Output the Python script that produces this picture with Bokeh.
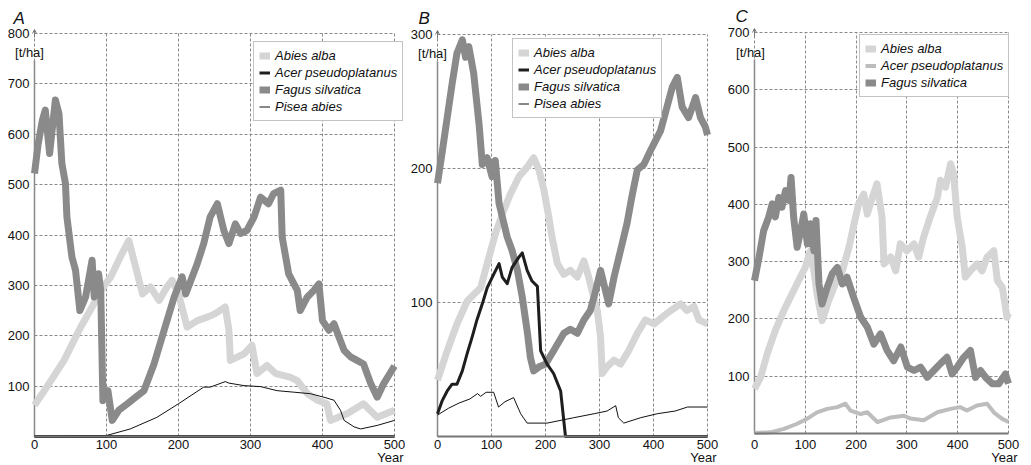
from bokeh.plotting import figure
from bokeh.layouts import row
from bokeh.models import Legend, LegendItem, Label, Grid, Arrow, OpenHead
from bokeh.embed import file_html
from bokeh.resources import INLINE

FONT = "Liberation Sans"

# ---------------- data ----------------
x_ticks = [0, 100, 200, 300, 400, 500]

# Panel A
A_y_ticks = [100, 200, 300, 400, 500, 600, 700, 800]
A_abies_year = [0, 17, 41, 64, 80, 92, 106, 119, 131, 138, 150, 161, 173, 184, 191, 200, 212, 226, 240, 251, 265, 270, 272, 291, 302, 309, 323, 335, 355, 365, 379, 393, 406, 411, 434, 457, 476, 500]
A_abies_val = [62, 98, 151, 217, 257, 290, 317, 356, 389, 350, 283, 297, 270, 297, 310, 283, 217, 230, 237, 244, 257, 211, 151, 164, 181, 125, 141, 125, 118, 111, 85, 72, 65, 32, 45, 65, 38, 52]
A_acer_year = [0, 500]
A_acer_val = [0, 0]
A_fagus_year = [0, 5, 11, 15, 21, 29, 34, 38, 43, 45, 52, 57, 63, 71, 80, 83, 89, 92, 95, 102, 108, 117, 129, 143, 152, 166, 180, 194, 205, 210, 226, 235, 244, 254, 263, 270, 279, 286, 295, 305, 314, 325, 332, 342, 344, 353, 365, 369, 379, 388, 395, 400, 409, 416, 423, 430, 439, 448, 457, 467, 476, 485, 500]
A_fagus_val = [522, 580, 628, 648, 562, 668, 641, 542, 502, 436, 356, 330, 250, 277, 350, 277, 323, 290, 71, 91, 32, 52, 65, 81, 91, 144, 211, 277, 317, 283, 343, 383, 436, 462, 409, 383, 422, 403, 409, 436, 475, 462, 482, 489, 396, 323, 290, 250, 277, 290, 303, 230, 211, 224, 197, 171, 158, 151, 144, 105, 78, 105, 140]
A_pisea_year = [0, 100, 133, 170, 200, 235, 244, 265, 270, 291, 314, 337, 360, 383, 402, 416, 425, 430, 444, 453, 476, 500]
A_pisea_val = [0, 2, 15, 38, 65, 98, 98, 109, 106, 101, 99, 91, 88, 85, 78, 72, 52, 32, 19, 15, 22, 32]

# Panel B
B_y_ticks = [100, 200, 300]
B_abies_year = [0, 18, 36, 55, 67, 80, 92, 107, 120, 135, 151, 166, 178, 188, 197, 206, 212, 222, 234, 246, 259, 271, 280, 286, 296, 302, 305, 314, 327, 339, 354, 370, 385, 401, 416, 432, 450, 462, 475, 484, 500]
B_abies_val = [42, 64, 84, 101, 106, 111, 129, 151, 166, 181, 194, 201, 208, 199, 184, 164, 149, 129, 121, 124, 119, 131, 119, 109, 94, 74, 47, 52, 57, 54, 64, 77, 87, 84, 89, 94, 99, 94, 97, 87, 84]
B_acer_year = [0, 9, 18, 27, 36, 46, 55, 64, 73, 83, 92, 104, 114, 120, 129, 138, 151, 157, 166, 175, 185, 191, 203, 215, 228, 237, 500]
B_acer_val = [17, 27, 34, 39, 39, 49, 62, 74, 87, 99, 111, 121, 129, 119, 114, 126, 134, 137, 124, 116, 112, 64, 54, 47, 34, 0, 0]
B_fagus_year = [0, 9, 18, 27, 36, 46, 52, 58, 67, 77, 83, 92, 101, 107, 114, 120, 129, 138, 148, 157, 166, 172, 178, 188, 200, 215, 234, 246, 259, 271, 283, 293, 302, 308, 317, 327, 339, 351, 360, 370, 382, 394, 404, 413, 425, 435, 444, 453, 465, 478, 487, 496, 500]
B_fagus_val = [189, 213, 238, 263, 286, 296, 283, 291, 271, 233, 203, 208, 194, 206, 174, 164, 149, 139, 124, 104, 79, 59, 49, 52, 54, 64, 77, 80, 77, 87, 94, 109, 124, 114, 99, 119, 139, 159, 179, 199, 203, 213, 221, 228, 246, 261, 268, 246, 238, 253, 238, 231, 225]
B_pisea_year = [0, 20, 40, 60, 74, 80, 90, 104, 113, 125, 141, 154, 166, 203, 252, 290, 314, 330, 335, 345, 376, 407, 440, 463, 500]
B_pisea_val = [16, 21, 25, 28, 32, 30, 33, 33, 22, 26, 29, 17, 10, 10, 14, 17, 19, 23, 14, 10, 14, 17, 19, 22, 22]

# Panel C
C_y_ticks = [100, 200, 300, 400, 500, 600, 700]
C_abies_year = [0, 12, 25, 41, 58, 74, 87, 100, 110, 117, 123, 133, 146, 159, 173, 186, 196, 205, 215, 222, 232, 241, 251, 255, 268, 278, 287, 300, 314, 323, 333, 346, 360, 366, 376, 386, 392, 399, 409, 415, 425, 438, 448, 458, 471, 478, 488, 497, 500]
C_abies_val = [78, 98, 139, 180, 215, 244, 267, 290, 319, 284, 244, 197, 232, 261, 284, 325, 366, 401, 418, 383, 412, 436, 378, 296, 308, 284, 331, 319, 331, 308, 343, 378, 412, 442, 430, 471, 453, 378, 325, 273, 284, 296, 284, 308, 319, 267, 255, 203, 210]
C_acer_year = [0, 31, 58, 84, 104, 123, 143, 163, 179, 189, 209, 222, 242, 268, 294, 307, 333, 360, 386, 405, 418, 438, 458, 471, 487, 500]
C_acer_val = [1, 2, 8, 17, 26, 37, 43, 46, 52, 40, 34, 37, 20, 28, 31, 26, 23, 37, 43, 46, 40, 49, 52, 37, 26, 20]
C_fagus_year = [0, 9, 18, 28, 35, 41, 48, 54, 61, 68, 72, 77, 84, 91, 97, 104, 110, 117, 121, 127, 133, 143, 153, 163, 173, 182, 195, 209, 222, 235, 248, 261, 274, 288, 301, 314, 327, 340, 353, 366, 379, 389, 399, 412, 425, 435, 445, 455, 468, 481, 494, 500]
C_fagus_val = [267, 308, 354, 378, 401, 378, 412, 395, 424, 407, 447, 378, 325, 354, 383, 331, 366, 319, 372, 261, 226, 255, 279, 290, 261, 273, 238, 203, 186, 156, 174, 145, 127, 151, 116, 110, 116, 98, 110, 122, 133, 104, 116, 133, 145, 98, 110, 98, 87, 87, 104, 87]

# ---------------- styles ----------------
ABIES = dict(line_color="#d5d5d5", line_width=7)
ACER_DARK = dict(line_color="#1e1e1e", line_width=3)
ACER_LIGHT = dict(line_color="#bdbdbd", line_width=4)
FAGUS = dict(line_color="#8a8a8a", line_width=7)
PISEA = dict(line_color="#111111", line_width=1)

FIG_H = 465
HAS_CROSS = "cross_bounds" in Grid.properties()


def make_panel(letter, ymax, yticks, series, legend_order, legend_xy,
               fig_w, px0, px500, py0, pytop, letter_dx, letter_dy, ha_dx, ha_dy,
               x_standoff, year_dy):
    # px*/py* are pixel positions inside this figure (top-left origin)
    sx = (px500 - px0) / 500.0
    sy = (py0 - pytop) / float(ymax)
    x_rng = (-px0 / sx, 500 + (fig_w - px500) / sx)
    y_rng = (-(FIG_H - py0) / sy, ymax + pytop / sy)
    p = figure(width=fig_w, height=FIG_H, x_range=x_rng, y_range=y_rng,
               output_backend="svg", toolbar_location=None, min_border=0)
    p.outline_line_color = None
    p.background_fill_color = "white"
    p.border_fill_color = "white"
    p.xaxis.ticker = x_ticks
    p.yaxis.ticker = yticks
    p.xaxis.fixed_location = 0
    p.yaxis.fixed_location = 0
    p.xaxis.bounds = (0, 500)
    p.yaxis.bounds = (0, ymax)
    for ax in (p.xaxis[0], p.yaxis[0]):
        ax.major_tick_line_color = None
        ax.minor_tick_line_color = None
        ax.major_tick_out = 0
        ax.major_tick_in = 0
        ax.major_label_text_font = FONT
        ax.major_label_text_font_size = "13px"
        ax.major_label_text_color = "#111111"
    p.xaxis.major_label_standoff = x_standoff
    p.yaxis.major_label_standoff = 5
    p.xaxis.axis_line_color = "#777777"
    p.xaxis.axis_line_width = 2
    p.yaxis.axis_line_color = None

    if HAS_CROSS:
        for g, cb in ((p.xgrid[0], (0, ymax)), (p.ygrid[0], (0, 500))):
            g.grid_line_color = "#8a8a8a"
            g.grid_line_dash = "3 2"
            g.grid_line_width = 1
            g.cross_bounds = cb
    else:
        p.xgrid.visible = False
        p.ygrid.visible = False
        p.segment(x0=x_ticks, y0=[0] * len(x_ticks), x1=x_ticks, y1=[ymax] * len(x_ticks),
                  line_color="#8a8a8a", line_dash="3 2", line_width=1)
        p.segment(x0=[0] * len(yticks), y0=yticks, x1=[500] * len(yticks), y1=yticks,
                  line_color="#8a8a8a", line_dash="3 2", line_width=1)

    # left axis line, stopping below the unit label
    gap = 27.0 / sy
    p.line([0, 0], [0, ymax - gap], line_color="#888888", line_width=1.5)
    # small arrow at the top of the value axis
    p.add_layout(Arrow(end=OpenHead(size=4, line_color="#777777", line_width=1),
                       x_start=0, y_start=ymax - 4.0 / sy, x_end=0, y_end=ymax + 4.0 / sy,
                       line_color="#777777", line_width=1))

    rends = {}
    for name, xs, ys, style in series:
        rends[name] = p.line(xs, ys, line_join="round", **style)

    legend = Legend(items=[LegendItem(label=n, renderers=[rends[n]]) for n in legend_order],
                    location=legend_xy, margin=0, padding=5, spacing=0,
                    glyph_width=11, glyph_height=17, label_height=17, label_standoff=5,
                    label_text_font=FONT, label_text_font_style="italic",
                    label_text_font_size="13px", label_text_color="#111111",
                    border_line_color="#888888", border_line_width=1,
                    background_fill_color="white", background_fill_alpha=1.0)
    p.add_layout(legend)

    p.add_layout(Label(x=0, y=ymax, x_offset=ha_dx, y_offset=ha_dy, text="[t/ha]",
                       text_align="center", text_baseline="middle", text_font=FONT,
                       text_font_size="13px", text_color="#111111"))
    p.add_layout(Label(x=500, y=0, x_offset=9, y_offset=year_dy, text="Year", text_align="right",
                       text_baseline="middle", text_font=FONT, text_font_size="13px",
                       text_color="#111111"))
    p.add_layout(Label(x=0, y=ymax, x_offset=letter_dx, y_offset=letter_dy, text=letter,
                       text_align="left", text_baseline="top", text_font=FONT,
                       text_font_style="italic", text_font_size="17px", text_color="#111111"))
    return p


pA = make_panel("A", 800, A_y_ticks, [
    ("Abies alba", A_abies_year, A_abies_val, ABIES),
    ("Acer pseudoplatanus", A_acer_year, A_acer_val, ACER_DARK),
    ("Fagus silvatica", A_fagus_year, A_fagus_val, FAGUS),
    ("Pisea abies", A_pisea_year, A_pisea_val, PISEA),
], ["Abies alba", "Acer pseudoplatanus", "Fagus silvatica", "Pisea abies"],
    legend_xy=(253, 344), fig_w=406, px0=34, px500=394, py0=436, pytop=33,
    letter_dx=-21, letter_dy=25, ha_dx=-5, ha_dy=-19, x_standoff=3, year_dy=-21)

pB = make_panel("B", 300, B_y_ticks, [
    ("Abies alba", B_abies_year, B_abies_val, ABIES),
    ("Fagus silvatica", B_fagus_year, B_fagus_val, FAGUS),
    ("Acer pseudoplatanus", B_acer_year, B_acer_val, ACER_DARK),
    ("Pisea abies", B_pisea_year, B_pisea_val, PISEA),
], ["Abies alba", "Acer pseudoplatanus", "Fagus silvatica", "Pisea abies"],
    legend_xy=(106, 347), fig_w=314, px0=31, px500=301, py0=436, pytop=34,
    letter_dx=-19, letter_dy=26, ha_dx=-5, ha_dy=-19, x_standoff=3, year_dy=-21)

pC = make_panel("C", 700, C_y_ticks, [
    ("Abies alba", C_abies_year, C_abies_val, ABIES),
    ("Acer pseudoplatanus", C_acer_year, C_acer_val, ACER_LIGHT),
    ("Fagus silvatica", C_fagus_year, C_fagus_val, FAGUS),
], ["Abies alba", "Acer pseudoplatanus", "Fagus silvatica"],
    legend_xy=(139, 368), fig_w=311, px0=34, px500=288, py0=433, pytop=32,
    letter_dx=-19, letter_dy=26, ha_dx=-4, ha_dy=-20, x_standoff=6, year_dy=-24)

layout = row(pA, pB, pC)
open("out.html", "w").write(file_html(layout, INLINE))
